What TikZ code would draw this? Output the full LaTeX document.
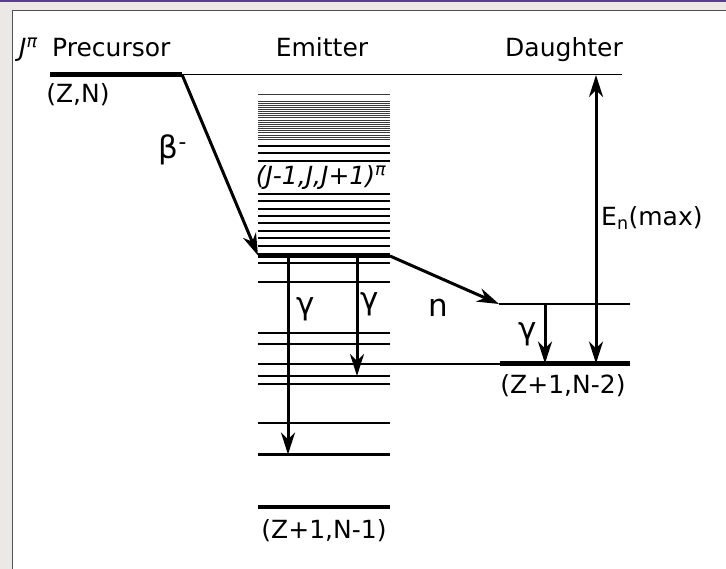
\documentclass[tikz,border=0pt]{standalone}
\usepackage{fontspec}
\setmainfont{DejaVu Sans}
\usetikzlibrary{arrows.meta}
\definecolor{bggray}{HTML}{EBE8E5}
\definecolor{framepurple}{HTML}{5B3D91}
\definecolor{framegray}{HTML}{505050}
\definecolor{densegray}{HTML}{3A3A3A}
\begin{document}
\begin{tikzpicture}[x=1pt,y=-1pt,
  lvl/.style={line width=1.8pt},
  denselvl/.style={line width=0.9pt, densegray},
  thicklvl/.style={line width=4.5pt},
  arr/.style={line width=3pt,-{Stealth[length=22pt,width=14pt,inset=7pt]}},
  dblarr/.style={line width=3pt,{Stealth[length=22pt,width=14pt,inset=7pt]}-{Stealth[length=22pt,width=14pt,inset=7pt]}},
  lbl/.style={font=\fontsize{25}{30}\selectfont, inner sep=0pt},
  biglbl/.style={font=\fontsize{31}{36}\selectfont, inner sep=0pt}]
\useasboundingbox (0,0) rectangle (726,569);
\fill[bggray] (0,0) rectangle (726,569);
\fill[white] (12,10) rectangle (726,569);
\draw[framegray, line width=1pt] (12.5,569) -- (12.5,10.5) -- (726,10.5);
\fill[framepurple] (0,0) rectangle (726,2);

% precursor level and top reference line
\draw[thicklvl] (50,74.5) -- (182,74.5);
\draw[lvl] (182,74.5) -- (622,74.5);
\coordinate (pre) at (182,74.5);

% emitter dense levels
\foreach \y in {94.3,101.7,103.7,105.7,107.7,109.7,111.7,113.7,115.7,117.7,120,122,124,126,128.3,130.7,132.7,135,137.3,139.3}
  \draw[denselvl] (258,\y) -- (390,\y);
\foreach \y in {146,153.3,160.7,194,201,208.7,216,223.3,231,238.3,245.7}
  \draw[lvl] (258,\y) -- (390,\y);
% emitter state
\draw[thicklvl] (258,255.5) -- (390,255.5);
\coordinate (emL) at (258,255.5);
\coordinate (emR) at (390,256);
\coordinate (g1s) at (288,256);
\coordinate (g2s) at (357,256);
% lower emitter levels
\foreach \y in {262.7,282,332.7,344.3,376,384.3,422.7}
  \draw[lvl] (258,\y) -- (390,\y);
\draw[lvl] (258,364.3) -- (500,364.3);
\draw[line width=2.2pt] (258,454.5) -- (390,454.5);
\coordinate (g1e) at (288,454.5);
\coordinate (g2e) at (357,376);
\draw[thicklvl] (258,507) -- (390,507);

% daughter
\draw[lvl] (499,304) -- (630,304);
\coordinate (dn) at (499,304);
\coordinate (g3s) at (545,304);
\draw[thicklvl] (500,363.5) -- (630,363.5);
\coordinate (g3e) at (545,363.5);
\coordinate (enTop) at (596,75);
\coordinate (enBot) at (596,363.5);

% arrows
\draw[arr] (pre) -- (emL);
\draw[arr] (emR) -- (dn);
\draw[arr] (g1s) -- (g1e);
\draw[arr] (g2s) -- (g2e);
\draw[arr] (g3s) -- (g3e);
\draw[dblarr] (enBot) -- (enTop);

% labels
\node[lbl, anchor=base west] (jpi) at (19,57) {\textit{J}\textsuperscript{\textit{π}}};
\node[lbl, anchor=base west] (precursor) at (52,57) {Precursor};
\node[lbl, anchor=base] (emitter) at (322,57) {Emitter};
\node[lbl, anchor=base] (daughter) at (564,57) {Daughter};
\node[lbl] (zn) at (78,95) {(Z,N)};
\node[biglbl] (beta) at (173,150) {β\textsuperscript{-}};
\node[lbl, font=\fontsize{25}{30}\selectfont\itshape] (jset) at (321,178) {(J-1,J,J+1)\textsuperscript{π}};
\node[biglbl] (gam1) at (306,309) {γ};
\node[biglbl] (gam2) at (370,304) {γ};
\node[biglbl] (nlab) at (438,308) {n};
\node[biglbl] (gam3) at (528,334) {γ};
\node[lbl, anchor=west] (enmax) at (601,218) {E\textsubscript{n}(max)};
\node[lbl] (zn2) at (563,386) {(Z+1,N-2)};
\node[lbl] (zn1) at (324,531) {(Z+1,N-1)};
\end{tikzpicture}
\end{document}
